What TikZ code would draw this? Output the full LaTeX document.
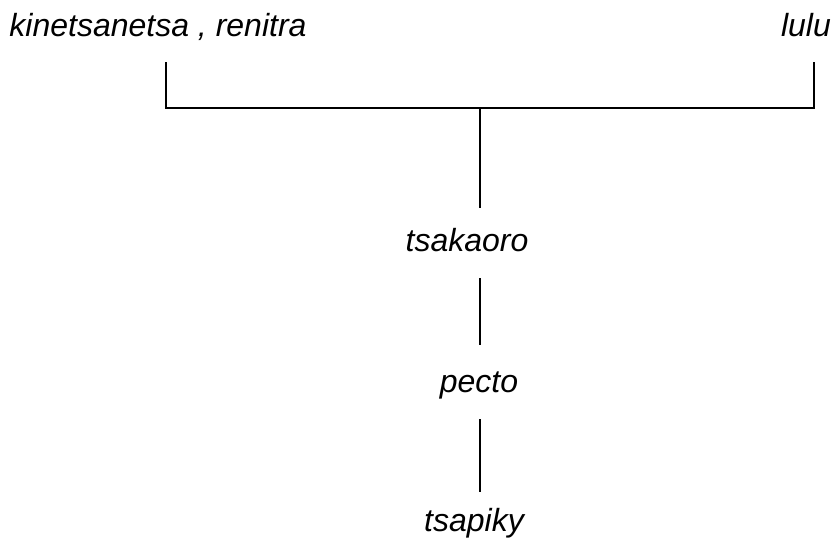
\documentclass[tikz,border=0pt]{standalone}
\usepackage{fontspec}
\setmainfont{Liberation Sans}
\tikzset{
  lbl/.style={font=\fontsize{32}{36}\selectfont\itshape, inner sep=0pt, anchor=base},
  edge/.style={draw=black, line width=1.3pt}
}
\begin{document}
\begin{tikzpicture}[x=1pt,y=-1pt]
\useasboundingbox (0,0) rectangle (836,539);
\node[lbl] (kin) at (158,36) {kinetsanetsa , renitra};
\node[lbl] (lulu) at (806,36) {lulu};
\node[lbl] (tsak) at (467,251) {tsakaoro};
\node[lbl] (pecto) at (479,392) {pecto};
\node[lbl] (tsap) at (474,531) {tsapiky};
\coordinate (lt) at (166,62);
\coordinate (lb) at (166,108);
\coordinate (rt) at (814,62);
\coordinate (rb) at (814,108);
\coordinate (jm) at (480,108);
\coordinate (jb) at (480,208);
\coordinate (p1) at (480,278);
\coordinate (p2) at (480,345);
\coordinate (q1) at (480,419);
\coordinate (q2) at (480,492);
\draw[edge] (lt) -- (lb) -- (rb) -- (rt);
\draw[edge] (jm) -- (jb);
\draw[edge] (p1) -- (p2);
\draw[edge] (q1) -- (q2);
\end{tikzpicture}
\end{document}
